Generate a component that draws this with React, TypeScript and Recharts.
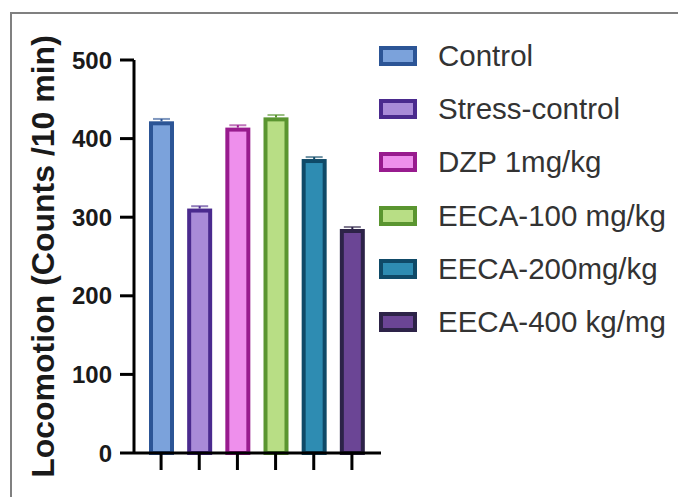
import React from 'react';
import { BarChart, Bar, XAxis, YAxis, Cell, Legend } from 'recharts';

const groups = ['Control', 'Stress-control', 'DZP 1mg/kg', 'EECA-100 mg/kg', 'EECA-200mg/kg', 'EECA-400 kg/mg'];
const locomotion = [422, 311, 414, 427, 374, 285];
const sem = [3, 3, 3, 3, 2.5, 2.5];
const yTicks = [0, 100, 200, 300, 400, 500];
const yLabel = 'Locomotion (Counts /10 min)';

const fills = ['#7BA2DB', '#A98BD8', '#EE8FEC', '#B8DE85', '#2E8CB2', '#6B4595'];
const strokes = ['#2C5596', '#4A2A8E', '#981B8E', '#5A9530', '#0F4A68', '#2D2348'];

const data = groups.map((g, i) => ({ name: g, value: locomotion[i], err: sem[i], idx: i }));

const FONT = '"Liberation Sans", Arial, Helvetica, sans-serif';

const BarShape = (props: any) => {
  const { x, y, width, height, payload } = props;
  const i = payload.idx;
  const sw = 4;
  const pxPerUnit = height / payload.value;
  const capY = y - payload.err * pxPerUnit;
  return (
    <g>
      <rect x={x + sw / 2} y={y + sw / 2} width={width - sw} height={height - sw / 2} fill={fills[i]} stroke={strokes[i]} strokeWidth={sw} />
      <line x1={x + width / 2} x2={x + width / 2} y1={y} y2={capY} stroke={strokes[i]} strokeWidth={2} />
      <line x1={x + 4} x2={x + width - 4} y1={capY} y2={capY} stroke={strokes[i]} strokeWidth={2} opacity={0.6} />
    </g>
  );
};

const LegendContent = () => (
  <div style={{ fontFamily: FONT }}>
    {groups.map((g, i) => (
      <div key={g} style={{ display: 'flex', alignItems: 'center', height: 53.3 }}>
        <div style={{ width: 38, height: 20, boxSizing: 'border-box', border: `4px solid ${strokes[i]}`, background: fills[i] }} />
        <span style={{ marginLeft: 21, fontSize: 29.5, color: '#333', whiteSpace: 'nowrap' }}>{g}</span>
      </div>
    ))}
  </div>
);

export default function App() {
  return (
    <div style={{ position: 'absolute', left: 0, top: 0, width: 678, height: 497, background: '#fff' }}>
      <div style={{ position: 'absolute', left: 10, top: 12, width: 668, height: 485, borderTop: '2px solid #808080', borderLeft: '2px solid #808080', boxSizing: 'border-box' }} />
      <div style={{ position: 'absolute', left: 0, top: 0 }}>
        <BarChart width={678} height={497} data={data} margin={{ top: 60, right: 297, left: 0, bottom: 0 }} barSize={25}>
          <XAxis
            dataKey="name"
            height={44}
            padding={{ left: 8, right: 10 }}
            tickFormatter={() => ''}
            tickSize={17}
            axisLine={{ stroke: '#000', strokeWidth: 3 }}
            tickLine={{ stroke: '#000', strokeWidth: 3 }}
          />
          <YAxis
            width={134}
            domain={[0, 500]}
            ticks={yTicks}
            tickSize={14}
            tickMargin={8}
            axisLine={{ stroke: '#000', strokeWidth: 3 }}
            tickLine={{ stroke: '#000', strokeWidth: 3 }}
            tick={{ fontFamily: FONT, fontSize: 24, fontWeight: 'bold', fill: '#1a1a1a' }}
            label={{ value: yLabel, angle: -90, position: 'center', dx: -24, style: { fontFamily: FONT, fontSize: 32, fontWeight: 'bold', fill: '#1a1a1a' } }}
          />
          <Legend layout="vertical" align="center" verticalAlign="middle" wrapperStyle={{ left: 379, top: 29, width: 300 }} content={LegendContent} />
          <Bar dataKey="value" isAnimationActive={false} shape={BarShape}>
            {data.map((d, i) => (
              <Cell key={d.name} fill={fills[i]} />
            ))}
          </Bar>
        </BarChart>
      </div>
    </div>
  );
}
